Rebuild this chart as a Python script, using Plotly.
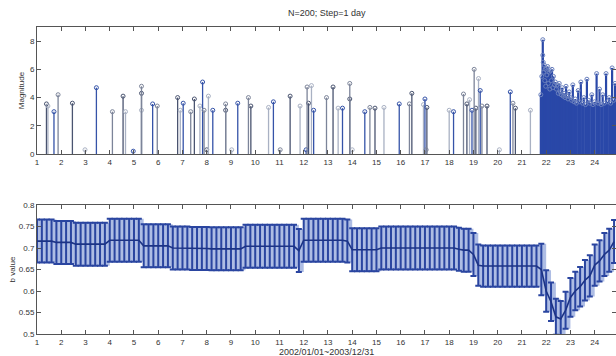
import numpy as np
import plotly.graph_objects as go

# ---------------- data ----------------
# events before the main shock (time in month index, magnitude)
pre_t = [1.39, 1.45, 1.70, 1.87, 2.46, 2.98, 3.45, 4.11, 4.55, 4.65, 4.97, 5.31, 5.31, 5.31, 5.77,
         5.96, 6.80, 6.91, 7.03, 7.34, 7.49, 7.72, 7.83, 7.89, 8.00, 8.07, 8.25, 8.78, 8.78, 9.03,
         9.28, 9.72, 9.82, 10.55, 10.75, 11.03, 11.44, 11.85, 12.10, 12.14, 12.20, 12.32, 12.41, 12.94, 13.21,
         13.42, 13.60, 13.90, 13.90, 14.00, 14.52, 14.73, 14.94, 15.31, 15.94, 16.36, 16.46, 16.94, 17.00, 17.05,
         17.08, 18.00, 18.18, 18.59, 18.73, 18.84, 18.94, 19.03, 19.10, 19.21, 19.28, 19.35, 19.56, 20.07, 20.52,
         20.63, 20.73, 21.35]
pre_m = [3.55, 3.4, 3.0, 4.2, 3.6, 0.3, 4.7, 3.0, 4.1, 3.0, 0.2, 4.8, 4.3, 3.1, 3.55,
         3.4, 4.0, 3.1, 3.6, 3.0, 3.9, 3.4, 5.1, 3.1, 0.3, 4.1, 3.1, 3.55, 3.1, 0.3,
         3.6, 4.0, 3.4, 3.3, 3.7, 0.3, 4.1, 3.4, 0.3, 4.75, 3.6, 4.85, 3.1, 4.0, 4.75,
         3.25, 3.25, 5.0, 3.9, 0.3, 3.0, 3.3, 3.25, 3.3, 3.55, 3.55, 4.3, 3.5, 3.9, 0.3,
         3.3, 3.1, 3.0, 4.25, 3.55, 3.85, 3.1, 6.0, 3.25, 5.35, 4.5, 3.4, 3.4, 0.3, 4.4,
         3.6, 3.25, 3.1]

# aftershock sequence
seq_t = [21.78, 21.82, 21.86, 21.86, 21.88, 21.90, 21.92, 21.94, 21.96, 21.98, 22.00, 22.03, 22.06, 22.09,
         22.12, 22.15, 22.18, 22.21, 22.24, 22.27, 22.30, 22.34, 22.38, 22.42, 22.46, 22.50, 22.54, 22.58,
         22.62, 22.66, 22.70, 22.74, 22.78, 22.82, 22.86, 22.90, 22.95, 23.00, 23.05, 23.10, 23.15, 23.20,
         23.25, 23.32, 23.38, 23.43, 23.50, 23.55, 23.62, 23.68, 23.75, 23.80, 23.88, 23.93, 24.00, 24.08,
         24.14, 24.20, 24.27, 24.33, 24.40, 24.47, 24.53, 24.60, 24.66, 24.72, 24.78, 24.84]
seq_m = [4.2, 5.5, 8.1, 7.0, 6.5, 5.8, 6.3, 5.2, 6.0, 4.8, 6.1, 5.6, 6.2, 5.0,
         5.8, 4.6, 5.9, 5.2, 6.0, 4.7, 5.5, 4.9, 5.1, 4.6, 4.9, 4.3, 5.0, 4.4,
         4.2, 4.7, 4.1, 4.3, 4.0, 4.8, 4.1, 3.9, 4.4, 4.0, 3.8, 4.9, 3.7, 3.9,
         3.6, 4.5, 3.7, 5.1, 3.6, 4.0, 3.5, 5.3, 3.8, 3.6, 4.2, 3.5, 3.7, 5.7,
         3.6, 4.6, 3.5, 4.2, 3.6, 5.7, 3.7, 4.0, 3.6, 6.1, 3.8, 5.0]

# b-value time series (one estimate per window)
b_t = [1.0, 1.2, 1.4, 1.6, 1.8, 2.0, 2.2, 2.4, 2.6, 2.8, 3.0, 3.2, 3.4, 3.6, 3.8, 4.0, 4.2, 4.4, 4.6, 4.8,
       5.0, 5.2, 5.4, 5.6, 5.8, 6.0, 6.2, 6.4, 6.6, 6.8, 7.0, 7.2, 7.4, 7.6, 7.8, 8.0, 8.2, 8.4, 8.6, 8.8,
       9.0, 9.2, 9.4, 9.6, 9.8, 10.0, 10.2, 10.4, 10.6, 10.8, 11.0, 11.2, 11.4, 11.6, 11.8, 12.0, 12.2, 12.4, 12.6, 12.8,
       13.0, 13.2, 13.4, 13.6, 13.8, 14.0, 14.2, 14.4, 14.6, 14.8, 15.0, 15.2, 15.4, 15.6, 15.8, 16.0, 16.2, 16.4, 16.6, 16.8,
       17.0, 17.2, 17.4, 17.6, 17.8, 18.0, 18.2, 18.4, 18.6, 18.8, 19.0, 19.2, 19.4, 19.6, 19.8, 20.0, 20.2, 20.4, 20.6, 20.8,
       21.0, 21.2, 21.4, 21.6, 21.8, 22.0, 22.2, 22.4, 22.6, 22.8, 23.0, 23.2, 23.4, 23.6, 23.8, 24.0, 24.2, 24.4, 24.6, 24.8]
b_val = [0.716, 0.716, 0.716, 0.716, 0.713, 0.713, 0.713, 0.713, 0.709, 0.709, 0.709, 0.709, 0.709, 0.709, 0.709, 0.718, 0.718, 0.718, 0.718, 0.718,
         0.718, 0.718, 0.705, 0.705, 0.705, 0.705, 0.705, 0.705, 0.700, 0.700, 0.700, 0.700, 0.699, 0.699, 0.699, 0.699, 0.698, 0.698, 0.698, 0.698,
         0.698, 0.698, 0.698, 0.704, 0.704, 0.704, 0.704, 0.704, 0.704, 0.704, 0.704, 0.704, 0.704, 0.704, 0.694, 0.718, 0.718, 0.718, 0.718, 0.718,
         0.718, 0.718, 0.718, 0.718, 0.716, 0.696, 0.696, 0.696, 0.696, 0.696, 0.696, 0.700, 0.700, 0.700, 0.700, 0.700, 0.700, 0.700, 0.700, 0.700,
         0.700, 0.700, 0.700, 0.700, 0.700, 0.700, 0.700, 0.697, 0.695, 0.695, 0.685, 0.660, 0.658, 0.658, 0.658, 0.658, 0.658, 0.658, 0.658, 0.658,
         0.658, 0.658, 0.658, 0.658, 0.650, 0.600, 0.575, 0.540, 0.535, 0.555, 0.585, 0.600, 0.610, 0.625, 0.635, 0.660, 0.670, 0.685, 0.695, 0.715]
b_err = [0.050, 0.050, 0.050, 0.050, 0.050, 0.050, 0.050, 0.050, 0.050, 0.050, 0.050, 0.050, 0.050, 0.050, 0.050, 0.050, 0.050, 0.050, 0.050, 0.050,
         0.050, 0.050, 0.050, 0.050, 0.050, 0.050, 0.050, 0.050, 0.050, 0.050, 0.050, 0.050, 0.050, 0.050, 0.050, 0.050, 0.050, 0.050, 0.050, 0.050,
         0.050, 0.050, 0.050, 0.050, 0.050, 0.050, 0.050, 0.050, 0.050, 0.050, 0.050, 0.050, 0.050, 0.050, 0.050, 0.050, 0.050, 0.050, 0.050, 0.050,
         0.050, 0.050, 0.050, 0.050, 0.050, 0.050, 0.050, 0.050, 0.050, 0.050, 0.050, 0.050, 0.050, 0.050, 0.050, 0.050, 0.050, 0.050, 0.050, 0.050,
         0.050, 0.050, 0.050, 0.050, 0.050, 0.050, 0.050, 0.050, 0.050, 0.050, 0.050, 0.048, 0.048, 0.048, 0.048, 0.048, 0.048, 0.048, 0.048, 0.048,
         0.048, 0.048, 0.048, 0.048, 0.060, 0.048, 0.045, 0.042, 0.042, 0.043, 0.045, 0.045, 0.046, 0.047, 0.048, 0.048, 0.048, 0.050, 0.050, 0.050]

x_ticks = list(range(1, 25))
mag_ticks = [0, 2, 4, 6, 8]
b_ticks = [0.5, 0.55, 0.6, 0.65, 0.7, 0.75, 0.8]
b_tick_text = ["0.5", "0.55", "0.6", "0.65", "0.7", "0.75", "0.8"]

# ---------------- figure ----------------
W, H = 616, 356
ML, MR, MT, MB = 37, 0, 27, 22
ph = H - MT - MB
top_dom = [(H - MB - 154) / ph, 1.0]
bot_dom = [0.0, (H - MB - 205) / ph]
XR = [1, 24.88]

fig = go.Figure()

def stems(ts, ms):
    xs, ys = [], []
    for t, m in zip(ts, ms):
        xs += [t, t, None]
        ys += [0, m, None]
    return xs, ys

pre_colors = ["#4a5470", "#a9b1c3", "#3553a8", "#7c8499"]
for k, col in enumerate(pre_colors):
    ts = pre_t[k::4]
    ms = pre_m[k::4]
    sx, sy = stems(ts, ms)
    fig.add_trace(go.Scatter(x=sx, y=sy, mode="lines", line=dict(color=col, width=1.3),
                             hoverinfo="skip", showlegend=False, xaxis="x", yaxis="y"))
    fig.add_trace(go.Scatter(x=ts, y=ms, mode="markers",
                             marker=dict(symbol="circle-open", size=4, color=col, line=dict(width=1)),
                             showlegend=False, xaxis="x", yaxis="y"))

sx, sy = stems(seq_t, seq_m)
fig.add_trace(go.Scatter(x=sx, y=sy, mode="lines", line=dict(color="#2a48a8", width=2.2),
                         hoverinfo="skip", showlegend=False, xaxis="x", yaxis="y"))
fig.add_trace(go.Scatter(x=seq_t, y=seq_m, mode="markers",
                         marker=dict(symbol="circle-open", size=4, color="#6a80bd", line=dict(width=1)),
                         showlegend=False, xaxis="x", yaxis="y"))

# b-value panel: light band + error bars + centre line
b_arr = np.array(b_val)
e_arr = np.array(b_err)
fig.add_trace(go.Scatter(x=b_t, y=list(b_arr - e_arr), mode="lines", line=dict(width=0, shape="hv"),
                         hoverinfo="skip", showlegend=False, xaxis="x2", yaxis="y2"))
fig.add_trace(go.Scatter(x=b_t, y=list(b_arr + e_arr), mode="lines", line=dict(width=0, shape="hv"),
                         fill="tonexty", fillcolor="rgba(120,145,210,0.6)",
                         hoverinfo="skip", showlegend=False, xaxis="x2", yaxis="y2"))
fig.add_trace(go.Scatter(x=b_t, y=b_val, mode="lines",
                         line=dict(color="#1c3385", width=1.6),
                         error_y=dict(type="data", array=b_err, visible=True,
                                      color="#2a45a0", thickness=2, width=3),
                         showlegend=False, xaxis="x2", yaxis="y2"))

axis_common = dict(showline=True, linecolor="#555555", linewidth=1, mirror="ticks",
                   ticks="inside", ticklen=4, tickcolor="#555555", showgrid=False, zeroline=False,
                   tickfont=dict(family="Liberation Sans", size=8, color="#333333"))

fig.update_layout(
    width=W, height=H,
    margin=dict(l=ML, r=MR, t=MT, b=MB),
    paper_bgcolor="white", plot_bgcolor="white",
    xaxis=dict(domain=[0, 1], range=XR, tickvals=x_ticks, anchor="y", **axis_common),
    yaxis=dict(domain=top_dom, range=[0, 9.0], tickvals=mag_ticks, anchor="x",
               title=dict(text="Magnitude", font=dict(family="Liberation Sans", size=8, color="#333"), standoff=4),
               **axis_common),
    xaxis2=dict(domain=[0, 1], range=XR, tickvals=x_ticks, anchor="y2", **axis_common),
    yaxis2=dict(domain=bot_dom, range=[0.5, 0.8], tickvals=b_ticks, ticktext=b_tick_text, anchor="x2",
                title=dict(text="b value", font=dict(family="Liberation Sans", size=8, color="#333"), standoff=2),
                **axis_common),
    annotations=[
        dict(text="N=200; Step=1 day", xref="paper", yref="paper", x=0.5, y=1.0, yshift=14,
             yanchor="middle", showarrow=False, font=dict(family="Liberation Sans", size=9, color="#333")),
        dict(text="2002/01/01~2003/12/31", xref="paper", yref="paper", x=0.5, y=0, yshift=-18,
             yanchor="middle", showarrow=False, font=dict(family="Liberation Sans", size=9, color="#333")),
    ],
)

fig.write_html("out.html", config={"displayModeBar": False},
               post_script="document.body.style.margin='0';document.body.style.overflow='hidden';")
